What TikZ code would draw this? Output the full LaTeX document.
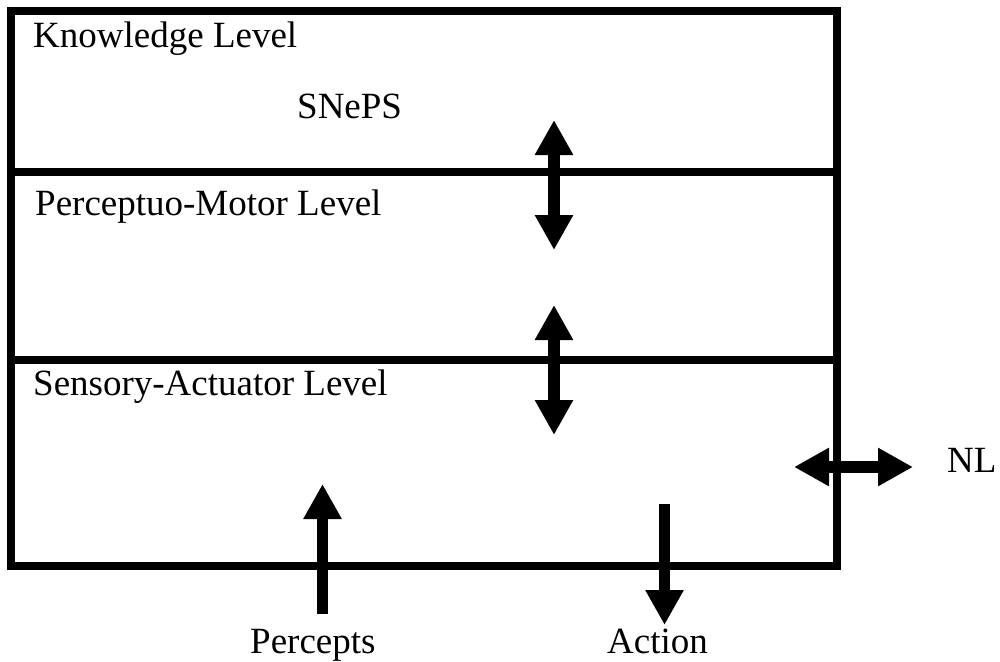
\documentclass[tikz,border=0pt]{standalone}
\usepackage{fontspec}
\setmainfont{Liberation Serif}
\usetikzlibrary{arrows.meta}
\tikzset{
  frame/.style={line width=8.5pt},
  blockarrow/.style={line width=11.5pt, -{Triangle[width=36pt,length=35pt]}},
  dblarrow/.style={line width=11.5pt, {Triangle[width=36pt,length=35pt]}-{Triangle[width=36pt,length=35pt]}},
  lbl/.style={anchor=base west, inner sep=0pt, font=\fontsize{37}{44}\selectfont}
}
\begin{document}
\begin{tikzpicture}[x=1pt,y=-1pt]
\useasboundingbox (0,0) rectangle (1000,661);
% outer box and dividers
\draw[frame] (11,11) rectangle (837,566);
\draw[frame] (11,172) -- (837,172);
\draw[frame] (11,360) -- (837,360);
% labels
\node[lbl] (kl) at (33,48) {Knowledge Level};
\node[lbl] (sneps) at (297,118) {SNePS};
\node[lbl] (pml) at (35,215) {Perceptuo-Motor Level};
\node[lbl] (sal) at (33,395) {Sensory-Actuator Level};
\node[lbl] (nl) at (947,472) {NL};
\node[lbl] (percepts) at (250,653) {Percepts};
\node[lbl] (action) at (607,653) {Action};
% arrow end points
\coordinate (a1t) at (554,120);
\coordinate (a1b) at (554,250);
\coordinate (a2t) at (554,305);
\coordinate (a2b) at (554,435);
\coordinate (pb) at (322.5,614);
\coordinate (pt) at (322.5,484);
\coordinate (at) at (664.5,504);
\coordinate (ab) at (664.5,625);
\coordinate (nll) at (794,467);
\coordinate (nlr) at (913,467);
% arrows
\draw[dblarrow] (a1t) -- (a1b);
\draw[dblarrow] (a2t) -- (a2b);
\draw[blockarrow] (pb) -- (pt);
\draw[blockarrow] (at) -- (ab);
\draw[dblarrow] (nll) -- (nlr);
\end{tikzpicture}
\end{document}
